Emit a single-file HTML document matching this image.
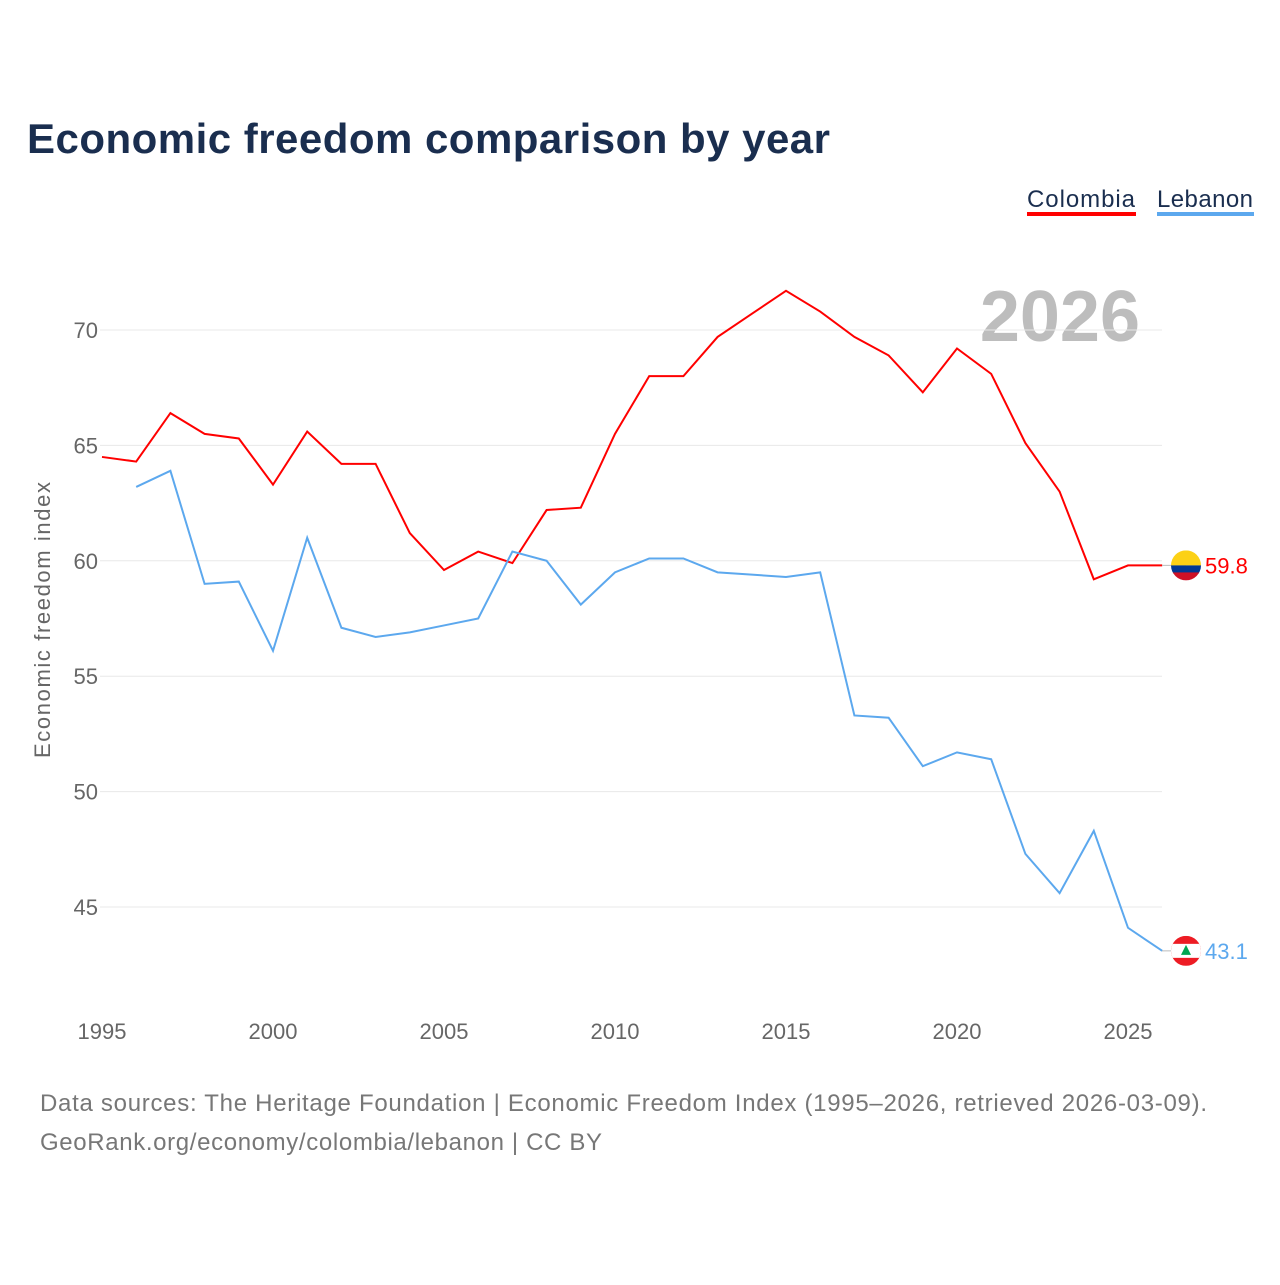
<!DOCTYPE html>
<html><head><meta charset="utf-8"><style>
body{margin:0;background:#fff;width:1280px;height:1280px;overflow:hidden;font-family:"Liberation Sans",sans-serif}
</style></head><body>
<svg id="chart" width="1280" height="1280" xmlns="http://www.w3.org/2000/svg">
<text x="27" y="153" font-size="42" font-weight="bold" fill="#1a2e4f" textLength="803">Economic freedom comparison by year</text>
<g><text x="1027" y="207" font-size="24" fill="#1a2e4f" textLength="108">Colombia</text><rect x="1027" y="212" width="109" height="4" fill="#ff0000"/></g>
<g><text x="1157" y="207" font-size="24" fill="#1a2e4f" textLength="96">Lebanon</text><rect x="1157" y="212" width="97" height="4" fill="#5ca8ee"/></g>
<text x="1140" y="341" text-anchor="end" font-size="72" font-weight="bold" fill="#bdbdbd">2026</text>
<text transform="translate(50,620) rotate(-90)" text-anchor="middle" font-size="22" fill="#666" textLength="276">Economic freedom index</text>
<g id="grid"></g><g id="series"></g>
<text x="40" y="1111" font-size="24" fill="#777" textLength="1167">Data sources: The Heritage Foundation | Economic Freedom Index (1995–2026, retrieved 2026-03-09).</text>
<text x="40" y="1150" font-size="24" fill="#777" textLength="562">GeoRank.org/economy/colombia/lebanon | CC BY</text>
</svg>
<script>
const years=[1995,1996,1997,1998,1999,2000,2001,2002,2003,2004,2005,2006,2007,2008,2009,2010,2011,2012,2013,2014,2015,2016,2017,2018,2019,2020,2021,2022,2023,2024,2025,2026];
const colombia=[64.5,64.3,66.4,65.5,65.3,63.3,65.6,64.2,64.2,61.2,59.6,60.4,59.9,62.2,62.3,65.5,68.0,68.0,69.7,70.7,71.7,70.8,69.7,68.9,67.3,69.2,68.1,65.1,63.0,59.2,59.8,59.8];
const lebanon=[null,63.2,63.9,59.0,59.1,56.1,61.0,57.1,56.7,56.9,57.2,57.5,60.4,60.0,58.1,59.5,60.1,60.1,59.5,59.4,59.3,59.5,53.3,53.2,51.1,51.7,51.4,47.3,45.6,48.3,44.1,43.1];
const yTicks=[45,50,55,60,65,70];
const xTicks=[1995,2000,2005,2010,2015,2020,2025];
const NS="http://www.w3.org/2000/svg";
const x=v=>102+(v-1995)*34.2;
const y=v=>907-(v-45)*23.08;
function mk(t,a,p){const e=document.createElementNS(NS,t);for(const k in a)e.setAttribute(k,a[k]);p.appendChild(e);return e;}
const grid=document.getElementById('grid'),ser=document.getElementById('series');
yTicks.forEach(t=>{
 const l=mk('line',{x1:100,x2:1162,y1:y(t),y2:y(t),stroke:'#e8e8e8','stroke-width':1},grid);
 
 
 const tx=mk('text',{x:98,y:y(t)+8,'text-anchor':'end','font-size':22,fill:'#666'},grid);tx.textContent=t;
 
 
});
xTicks.forEach(t=>{
 const tx=mk('text',{x:x(t),y:1039,'text-anchor':'middle','font-size':22,fill:'#666'},grid);tx.textContent=t;
 
 
});
function line(vals,col,name){
 let d='';vals.forEach((v,i)=>{if(v==null)return;d+=(d?'L':'M')+x(years[i])+','+y(v);});
 const p=mk('path',{d:d,fill:'none',stroke:col,'stroke-width':2},ser);
 
 
}
line(colombia,'#ff0000','colombia-line');
line(lebanon,'#5ca8ee','lebanon-line');
function endLabel(vals,col,name,flag){
 const v=vals[vals.length-1],yy=y(v),cx=1186;
 mk('line',{x1:1162,x2:cx,y1:yy,y2:yy,stroke:'#bbb'},ser);
 const g=mk('g',{},ser);
 
 
 const cid='clip'+name;const cp=mk('clipPath',{id:cid},g);mk('circle',{cx:cx,cy:yy,r:15},cp);
 const fg=mk('g',{'clip-path':'url(#'+cid+')'},g);
 if(flag==='co'){mk('rect',{x:cx-15,y:yy-15,width:30,height:15,fill:'#fcd116'},fg);mk('rect',{x:cx-15,y:yy,width:30,height:8,fill:'#003893'},fg);mk('rect',{x:cx-15,y:yy+7,width:30,height:8,fill:'#ce1126'},fg);}
 else{mk('rect',{x:cx-15,y:yy-15,width:30,height:30,fill:'#ed1c24'},fg);mk('rect',{x:cx-15,y:yy-7,width:30,height:14,fill:'#fff'},fg);mk('path',{d:`M${cx},${yy-6}L${cx+5},${yy+4}L${cx-5},${yy+4}Z`,fill:'#00a651'},fg);}
 const t=mk('text',{x:1205,y:yy+8,'font-size':22,fill:col},ser);t.textContent=v.toFixed(1);
 
 
}
endLabel(colombia,'#ff0000','colombia','co');
endLabel(lebanon,'#5ca8ee','lebanon','lb');
</script>
</body></html>
